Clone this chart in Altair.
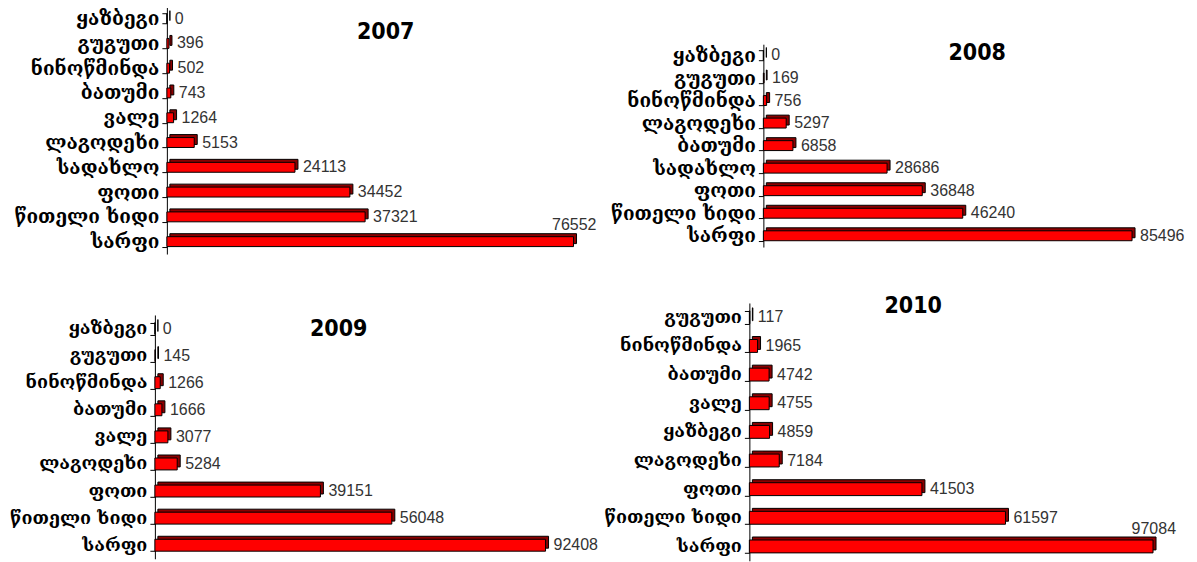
import altair as alt
import pandas as pd

# ---- data -------------------------------------------------------------
cats_2007 = ["ყაზბეგი", "გუგუთი", "ნინოწმინდა", "ბათუმი", "ვალე", "ლაგოდეხი",
             "სადახლო", "ფოთი", "წითელი ხიდი", "სარფი"]
vals_2007 = [0, 396, 502, 743, 1264, 5153, 24113, 34452, 37321, 76552]

cats_2008 = ["ყაზბეგი", "გუგუთი", "ნინოწმინდა", "ლაგოდეხი", "ბათუმი",
             "სადახლო", "ფოთი", "წითელი ხიდი", "სარფი"]
vals_2008 = [0, 169, 756, 5297, 6858, 28686, 36848, 46240, 85496]

cats_2009 = ["ყაზბეგი", "გუგუთი", "ნინოწმინდა", "ბათუმი", "ვალე", "ლაგოდეხი",
             "ფოთი", "წითელი ხიდი", "სარფი"]
vals_2009 = [0, 145, 1266, 1666, 3077, 5284, 39151, 56048, 92408]

cats_2010 = ["გუგუთი", "ნინოწმინდა", "ბათუმი", "ვალე", "ყაზბეგი", "ლაგოდეხი",
             "ფოთი", "წითელი ხიდი", "სარფი"]
vals_2010 = [117, 1965, 4742, 4755, 4859, 7184, 41503, 61597, 97084]

years = ["2007", "2008", "2009", "2010"]

LABEL_FONT = "DejaVu Serif"
NUM_FONT = "Liberation Sans"
TITLE_FONT = "Liberation Sans Narrow, Arial Narrow, DejaVu Sans Condensed, sans-serif"


def panel(cats, vals, year, width, height, yrange, pinner, barlen, extent,
          title_xy, max_above, label_size=19, shift=0):
    df = pd.DataFrame({"cat": cats, "val": vals})
    base = alt.Chart(df)
    y = alt.Y(
        "cat:N",
        sort=cats,
        scale=alt.Scale(range=yrange, paddingInner=pinner, paddingOuter=pinner / 2),
        axis=alt.Axis(
            title=None, domainColor="black", domainWidth=1, tickColor="black",
            tickSize=5, tickBand="extent", labelFont=LABEL_FONT,
            labelFontWeight="bold", labelFontSize=label_size, labelColor="black",
            labelPadding=3, minExtent=extent, labelLimit=300, offset=shift,
        ),
    )
    vmax = max(vals)
    xmax = vmax * (width + shift) / barlen
    x = alt.X("val:Q", scale=alt.Scale(domain=[0, xmax], range=[-shift, width], nice=False),
              axis=None)

    back = base.mark_bar(
        color="#8b0000", stroke="black", strokeWidth=1,
        xOffset=3, x2Offset=3, yOffset=-3, y2Offset=-3,
    ).encode(x=x, y=y)
    front = base.mark_bar(color="#ff0000", stroke="black", strokeWidth=1).encode(x=x, y=y)

    lab_base = base.transform_joinaggregate(vmax="max(val)", groupby=[])
    if max_above:
        rest = lab_base.transform_filter("datum.val < datum.vmax").mark_text(
            align="left", baseline="middle", dx=8, font=NUM_FONT, fontSize=16,
            color="#333333",
        ).encode(x=x, y=y, text="val:Q")
        top = lab_base.transform_filter("datum.val == datum.vmax").mark_text(
            align="right", baseline="middle", dx=23, dy=-17, font=NUM_FONT,
            fontSize=16, color="#333333",
        ).encode(x=x, y=y, text="val:Q")
        labels = [rest, top]
    else:
        labels = [base.mark_text(
            align="left", baseline="middle", dx=8, font=NUM_FONT, fontSize=16,
            color="#333333",
        ).encode(x=x, y=y, text="val:Q")]

    title = alt.Chart(pd.DataFrame({"t": [year]})).mark_text(
        font=TITLE_FONT, fontSize=23, fontWeight="bold", color="black",
        align="center", baseline="middle",
    ).encode(text="t:N", x=alt.value(title_xy[0]), y=alt.value(title_xy[1]))

    return alt.layer(back, front, *labels, title).properties(width=width, height=height)


p07 = panel(cats_2007, vals_2007, years[0], 434, 250, [-13, 235], 0.6,
            407, 158, (219, 13), True)
p08 = panel(cats_2008, vals_2008, years[1], 425, 250, [25, 228], 0.56,
            369, 161, (214, 34), False)
p09 = panel(cats_2009, vals_2009, years[2], 434, 266, [20, 264], 0.56,
            391, 140, (172, 34), False, label_size=18, shift=12)
p10 = panel(cats_2010, vals_2010, years[3], 439, 266, [8, 266], 0.55,
            404, 147, (164, 11), True, label_size=18)

chart = alt.vconcat(
    alt.hconcat(p07, p08, spacing=0),
    alt.hconcat(p09, p10, spacing=0),
    spacing=15,
).properties(padding=0, background="white").configure_view(stroke="transparent")

chart.save("out.html", embed_options={"renderer": "svg", "actions": False})
